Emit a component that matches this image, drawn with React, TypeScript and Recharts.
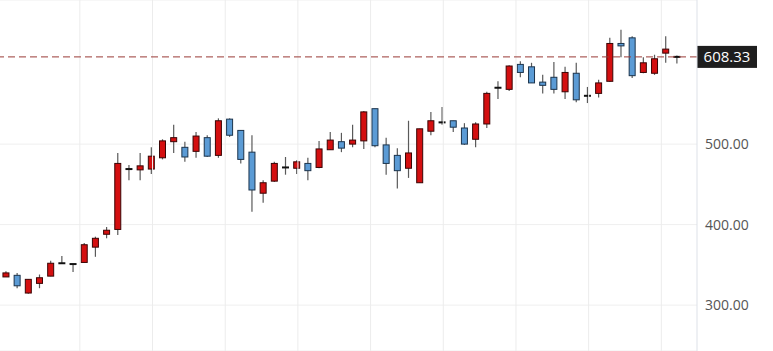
import { ComposedChart, Bar, XAxis, YAxis, CartesianGrid, ReferenceLine } from 'recharts';

// daily candles, oldest first
const opens = [335, 337, 315, 327, 336, 352, 351, 353, 372, 388, 394, 469, 468, 469, 483, 503, 496, 491, 508, 486, 531, 517, 490, 439, 454, 471, 470, 476, 471, 493, 503, 500, 504, 544, 499, 486, 470, 452, 516, 527, 529, 520, 506, 525, 570, 568, 599, 596, 577, 583, 565, 588, 560, 563, 578, 625, 632, 589, 588, 613, 608.33];
const highs = [342, 340, 332, 338, 355, 361, 351, 377, 385, 397, 489, 474, 489, 496, 506, 524, 503, 515, 511, 532, 532, 517, 511, 455, 478, 484, 480, 483, 504, 515, 514, 524, 541, 544, 508, 495, 529, 519, 540, 546, 529, 526, 527, 565, 578, 598, 603, 601, 586, 602, 596, 601, 571, 580, 632, 642, 634, 608, 611, 634, 610];
const lows = [335, 321, 314, 321, 336, 352, 341, 353, 360, 383, 387, 455, 455, 463, 481, 489, 478, 483, 484, 483, 509, 476, 416, 427, 453, 462, 463, 455, 470, 493, 490, 496, 494, 496, 462, 445, 458, 452, 511, 524, 515, 499, 496, 520, 556, 566, 583, 576, 563, 563, 556, 552, 551, 558, 577, 608, 582, 588, 586, 601, 600];
const closes = [340, 324, 332, 334, 352, 352, 351, 375, 383, 393, 476, 469, 473, 485, 504, 508, 484, 510, 485, 529, 511, 481, 443, 452, 476, 471, 478, 467, 494, 505, 495, 505, 540, 498, 476, 467, 489, 519, 529, 527, 521, 500, 525, 563, 570, 597, 589, 576, 573, 568, 589, 555, 560, 576, 625, 622, 585, 601, 606, 618, 608.33];

const lastPrice = 608.33;
const priceTicks = [300, 400, 500];
const gridX = [6.6, 13.1, 19.6, 26.1, 32.6, 39.1, 45.6, 52.1, 58.6];

const data = opens.map((open, i) => ({
  i,
  open,
  high: highs[i],
  low: lows[i],
  close: closes[i],
  range: [lows[i], highs[i]],
}));

const Candle = (props: any) => {
  const { x, y, width, height, payload } = props;
  const { open, close, high, low } = payload;
  const cx = x + width / 2;
  const span = high - low || 1;
  const toY = (v: number) => y + ((high - v) / span) * height;
  const top = toY(Math.max(open, close));
  const bottom = toY(Math.min(open, close));
  const up = close > open;
  return (
    <g>
      <line x1={cx} x2={cx} y1={toY(high)} y2={toY(low)} stroke="#5a5a5a" strokeWidth={1.2} />
      {open === close ? (
        <line x1={cx - 3.5} x2={cx + 3.5} y1={top} y2={top} stroke="#111" strokeWidth={2} />
      ) : (
        <rect
          x={cx - 3}
          y={top}
          width={6}
          height={Math.max(bottom - top, 1)}
          fill={up ? '#d40f10' : '#5b9bd5'}
          stroke={up ? '#3a0505' : '#1c344c'}
          strokeWidth={1}
        />
      )}
    </g>
  );
};

const PriceTag = (props: any) => {
  const { viewBox } = props;
  const x = viewBox.x + viewBox.width;
  const y = viewBox.y;
  return (
    <g>
      <rect x={x} y={y - 11} width={60} height={22} fill="#1e1e1e" />
      <text x={x + 30} y={y + 5} textAnchor="middle" fill="#fff" fontSize={15} fontFamily="Open Sans">
        {lastPrice.toFixed(2)}
      </text>
    </g>
  );
};

export default function App() {
  return (
    <div style={{ position: 'absolute', left: 0, top: 0, background: '#fff' }}>
      <ComposedChart width={773} height={351} data={data} margin={{ top: 0, right: 0, left: 0, bottom: 0 }}>
        <CartesianGrid vertical={false} stroke="#efefef" />
        <XAxis dataKey="i" type="number" domain={[-0.54, 61.79]} hide />
        <YAxis
          orientation="right"
          width={76}
          domain={[243, 679]}
          ticks={priceTicks}
          allowDataOverflow
          tickLine={false}
          axisLine={{ stroke: '#dde1e8' }}
          tick={{ fill: '#555', fontSize: 14, fontFamily: 'Open Sans', textAnchor: 'start' }}
          tickFormatter={(v: number) => v.toFixed(2)}
        />
        {gridX.map((g) => (
          <ReferenceLine key={g} x={g} stroke="#ececec" />
        ))}
        <ReferenceLine y={lastPrice} stroke="#9a3a36" strokeDasharray="7 4" label={<PriceTag />} />
        <Bar dataKey="range" barSize={7} shape={<Candle />} isAnimationActive={false} />
      </ComposedChart>
    </div>
  );
}
